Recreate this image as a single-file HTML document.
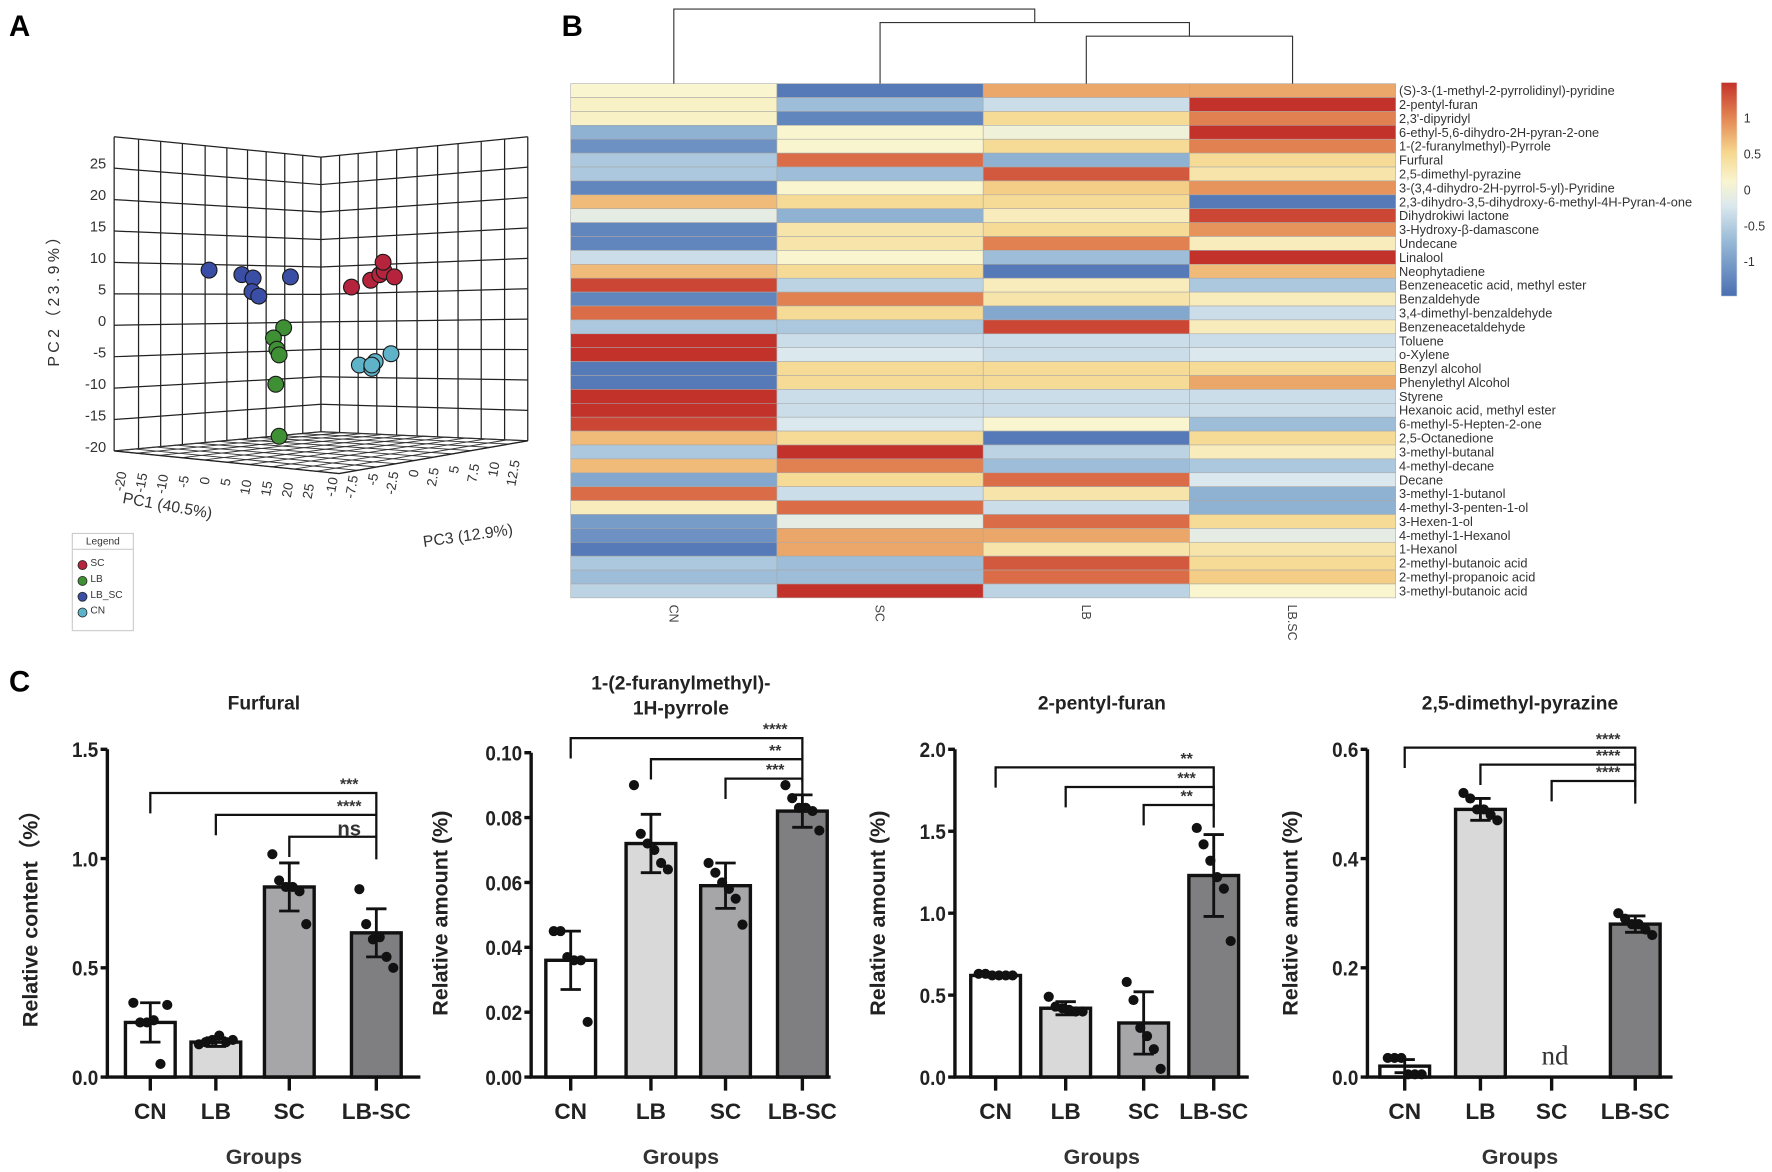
<!DOCTYPE html>
<html><head><meta charset="utf-8"><style>
html,body{margin:0;padding:0;background:#fff;}
svg{display:block;font-family:"Liberation Sans",Arial,sans-serif;}
</style></head><body>
<svg id="fig" width="1772" height="1172" viewBox="0 0 1568 1037" preserveAspectRatio="none" xmlns="http://www.w3.org/2000/svg">
<text x="8" y="32" font-size="26" font-weight="bold">A</text>
<text x="497" y="32" font-size="26" font-weight="bold">B</text>
<text x="8" y="612" font-size="26" font-weight="bold">C</text>
<g id="pca"></g>
<g id="heat"></g>
<g id="bars"></g>
</svg>
<script>
const NS="http://www.w3.org/2000/svg";
function mk(p,t,a,txt){const e=document.createElementNS(NS,t);for(const k in a)e.setAttribute(k,a[k]);if(txt!==undefined)e.textContent=txt;p.appendChild(e);return e;}

/* ---------- PCA data ---------- */
const pcaGroups=["SC","LB","LB_SC","CN"];
const pcaColors=["#b5243c","#3f8f34","#3b4ea6","#5fb3c9"];
const pcaSC=[[311,254],[328,248],[336,243],[340,240],[349,245],[339,232]];
const pcaLB=[[251,290],[242,299],[245,309],[247,314],[244,340],[247,386]];
const pcaLBSC=[[185,239],[214,243],[224,246],[223,258],[229,262],[257,245]];
const pcaCN=[[318,323],[329,326],[332,320],[346,313],[329,323]];
const pc2Ticks=["25","20","15","10","5","0","-5","-10","-15","-20"];
const pc1Ticks=["-20","-15","-10","-5","0","5","10","15","20","25"];
const pc3Ticks=["-10","-7.5","-5","-2.5","0","2.5","5","7.5","10","12.5"];

/* ---------- Heatmap data ---------- */
const heatCols=["CN","SC","LB","LB.SC"];
const heatRows=["(S)-3-(1-methyl-2-pyrrolidinyl)-pyridine","2-pentyl-furan","2,3'-dipyridyl","6-ethyl-5,6-dihydro-2H-pyran-2-one","1-(2-furanylmethyl)-Pyrrole","Furfural"," 2,5-dimethyl-pyrazine","3-(3,4-dihydro-2H-pyrrol-5-yl)-Pyridine","2,3-dihydro-3,5-dihydroxy-6-methyl-4H-Pyran-4-one","Dihydrokiwi lactone","3-Hydroxy-β-damascone","Undecane","Linalool","Neophytadiene","Benzeneacetic acid, methyl ester","Benzaldehyde","3,4-dimethyl-benzaldehyde","Benzeneacetaldehyde","Toluene","o-Xylene","Benzyl alcohol","Phenylethyl Alcohol","Styrene","Hexanoic acid, methyl ester","6-methyl-5-Hepten-2-one","2,5-Octanedione","3-methyl-butanal","4-methyl-decane","Decane"," 3-methyl-1-butanol","4-methyl-3-penten-1-ol","3-Hexen-1-ol"," 4-methyl-1-Hexanol","1-Hexanol","2-methyl-butanoic acid","2-methyl-propanoic acid","3-methyl-butanoic acid"];
const heatCN=[0.1,0.15,0.15,-0.7,-1.0,-0.5,-0.5,-1.1,0.6,-0.1,-1.1,-1.1,-0.3,0.6,1.2,-1.1,1.0,-0.5,1.3,1.3,-1.2,-1.2,1.3,1.3,1.2,0.6,-0.5,0.6,-0.8,1.0,0.2,-0.9,-1.0,-1.2,-0.5,-0.6,-0.4];
const heatSC=[-1.2,-0.6,-1.1,0.1,0.1,1.0,-0.6,0.1,0.4,-0.7,0.3,0.3,0.1,0.4,-0.4,0.9,0.4,-0.5,-0.3,-0.2,0.4,0.4,-0.3,-0.3,-0.2,0.4,1.3,0.9,0.4,-0.3,1.0,-0.1,0.7,0.7,-0.6,-0.6,1.3];
const heatLB=[0.7,-0.3,0.4,0.0,0.4,-0.7,1.1,0.5,0.4,0.2,0.4,0.9,-0.6,-1.2,0.2,0.3,-0.8,1.2,-0.3,-0.3,0.4,0.4,-0.3,-0.3,0.1,-1.2,-0.4,-0.6,1.0,0.3,-0.3,1.0,0.7,0.3,1.1,1.0,-0.4];
const heatLBSC=[0.7,1.3,0.9,1.3,0.9,0.4,0.3,0.8,-1.2,1.2,0.8,0.2,1.3,0.6,-0.5,0.2,-0.3,0.2,-0.3,-0.2,0.4,0.7,-0.3,-0.3,-0.6,0.4,0.2,-0.5,-0.2,-0.7,-0.7,0.4,-0.1,0.3,0.4,0.5,0.1];
const cbTicks=[1,0.5,0,-0.5,-1];

/* ---------- Bar chart data ---------- */
const groups=["CN","LB","SC","LB-SC"];
const furfuralMean=[0.25,0.16,0.87,0.66];
const furfuralSD=[0.09,0.02,0.11,0.11];
const furfuralPts=[[0.34,0.25,0.25,0.26,0.06,0.33],[0.15,0.16,0.17,0.19,0.16,0.17],[1.02,0.90,0.87,0.87,0.85,0.70],[0.86,0.70,0.63,0.64,0.55,0.50]];
const pyrroleMean=[0.036,0.072,0.059,0.082];
const pyrroleSD=[0.009,0.009,0.007,0.005];
const pyrrolePts=[[0.045,0.045,0.037,0.036,0.036,0.017],[0.090,0.075,0.072,0.070,0.066,0.064],[0.066,0.063,0.060,0.058,0.055,0.047],[0.090,0.086,0.083,0.083,0.082,0.076]];
const furanMean=[0.62,0.42,0.33,1.23];
const furanSD=[0.01,0.04,0.19,0.25];
const furanPts=[[0.63,0.63,0.62,0.62,0.62,0.62],[0.49,0.43,0.42,0.41,0.40,0.40],[0.58,0.47,0.30,0.25,0.17,0.05],[1.52,1.42,1.32,1.22,1.15,0.83]];
const pyrazineMean=[0.02,0.49,null,0.28];
const pyrazineSD=[0.012,0.02,null,0.015];
const pyrazinePts=[[0.035,0.035,0.035,0.005,0.005,0.005],[0.52,0.51,0.49,0.49,0.48,0.47],[],[0.30,0.29,0.28,0.28,0.27,0.26]];
const furfuralTicks=[0,0.5,1.0,1.5];
const pyrroleTicks=[0,0.02,0.04,0.06,0.08,0.10];
const furanTicks=[0,0.5,1.0,1.5,2.0];
const pyrazineTicks=[0,0.2,0.4,0.6];
const furfuralSig=["***","****","ns"], furfuralSigY=[1.30,1.20,1.10];
const pyrroleSig=["****","**","***"], pyrroleSigY=[0.1045,0.098,0.092];
const furanSig=["**","***","**"], furanSigY=[1.89,1.77,1.66];
const pyrazineSig=["****","****","****"], pyrazineSigY=[0.603,0.572,0.542];

/* ===== PCA drawing ===== */
(function(){
  const g=document.getElementById('pca');
  const TL=[101,121],CT=[284,139],CB=[284,382],BL=[101,399],TR=[467,121],BR=[467,390];
  const lerp=(a,b,t)=>[a[0]+(b[0]-a[0])*t,a[1]+(b[1]-a[1])*t];
  const lx=[0,0.118,0.225,0.33,0.44,0.545,0.645,0.735,0.825,0.912,1];
  const rx=[0,0.09,0.18,0.27,0.366,0.465,0.564,0.663,0.775,0.888,1];
  const st={stroke:"#222","stroke-width":1.1,fill:"none"};
  for(let i=0;i<=10;i++){const t=i/10;
    let a=lerp(TL,BL,t),b=lerp(CT,CB,t);mk(g,'line',Object.assign({x1:a[0],y1:a[1],x2:b[0],y2:b[1]},st));
    let c=lerp(TR,BR,t);mk(g,'line',Object.assign({x1:b[0],y1:b[1],x2:c[0],y2:c[1]},st));}
  lx.forEach(t=>{let a=lerp(TL,CT,t),b=lerp(BL,CB,t);mk(g,'line',Object.assign({x1:a[0],y1:a[1],x2:b[0],y2:b[1]},st));});
  rx.forEach(t=>{let a=lerp(CT,TR,t),b=lerp(CB,BR,t);mk(g,'line',Object.assign({x1:a[0],y1:a[1],x2:b[0],y2:b[1]},st));});
  const FF=[300,419];
  for(let i=0;i<=10;i++){const t=i/10;
    let a=lerp(BL,CB,t),b=lerp(FF,BR,t);mk(g,'line',{x1:a[0],y1:a[1],x2:b[0],y2:b[1],stroke:"#333","stroke-width":0.8});
    let c=lerp(CB,BR,t),d=lerp(BL,FF,t);mk(g,'line',{x1:c[0],y1:c[1],x2:d[0],y2:d[1],stroke:"#333","stroke-width":0.8});}
  mk(g,'polyline',{points:`${BL} ${FF} ${BR}`,fill:"none",stroke:"#222","stroke-width":1.2});
  pc2Ticks.forEach((s,i)=>{const y=144+i*(395-144)/9;const t=mk(g,'text',{x:94,y:y+5,"font-size":13,"text-anchor":"end",fill:"#333"},s);
    });
  pc1Ticks.forEach((s,i)=>{const x=112+i*(278-112)/9,y=418+i*1.2;const t=mk(g,'text',{x:x,y:y,"font-size":12,"text-anchor":"end",fill:"#333",transform:`rotate(-80 ${x} ${y})`},s);
    });
  pc3Ticks.forEach((s,i)=>{const x=299+i*(460-299)/9,y=423-i*1.7;const t=mk(g,'text',{x:x,y:y,"font-size":12,"text-anchor":"end",fill:"#333",transform:`rotate(-80 ${x} ${y})`},s);
    });
  let t=mk(g,'text',{x:52,y:262,"font-size":14,"text-anchor":"middle",fill:"#333","letter-spacing":"3",transform:"rotate(-90 52 262)"},"PC2（23.9%）");
  
  t=mk(g,'text',{x:108,y:445,"font-size":14,fill:"#333",transform:"rotate(10 108 445)"},"PC1 (40.5%)");
  
  t=mk(g,'text',{x:375,y:484,"font-size":14,fill:"#333",transform:"rotate(-8 375 484)"},"PC3 (12.9%)");
  
  const sets=[pcaSC,pcaLB,pcaLBSC,pcaCN];
  sets.forEach((pts,gi)=>pts.forEach(p=>{const c=mk(g,'circle',{cx:p[0],cy:p[1],r:7,fill:pcaColors[gi],stroke:"#1a1a1a","stroke-width":1});
    }));
  const lg=mk(g,'g',{});
  mk(lg,'rect',{x:64,y:472,width:54,height:86,fill:"#fff",stroke:"#ccc"});
  mk(lg,'line',{x1:64,y1:486,x2:118,y2:486,stroke:"#ccc"});
  mk(lg,'text',{x:91,y:482,"font-size":9,"text-anchor":"middle",fill:"#333"},"Legend");
  pcaGroups.forEach((n,i)=>{const y=500+i*14;mk(lg,'circle',{cx:73,cy:y,r:4,fill:pcaColors[i],stroke:"#222","stroke-width":0.7});
    const e=mk(lg,'text',{x:80,y:y+1,"font-size":9,fill:"#333"},n);});
})();

/* ===== Heatmap drawing ===== */
const stops=[[-1.3,[74,111,178]],[-0.65,[149,184,214]],[-0.2,[219,232,238]],[0.1,[249,245,207]],[0.45,[246,215,142]],[0.85,[229,138,85]],[1.3,[195,50,42]]];
function hcol(v){v=Math.max(-1.3,Math.min(1.3,v));for(let i=0;i<stops.length-1;i++){const a=stops[i],b=stops[i+1];if(v<=b[0]){const t=(v-a[0])/(b[0]-a[0]);const c=a[1].map((x,k)=>Math.round(x+(b[1][k]-x)*t));return `rgb(${c})`;}}return 'rgb(195,50,42)';}
(function(){
  const g=document.getElementById('heat');
  const x0=505,x1=1235,y0=74,y1=529,cw=(x1-x0)/4,rh=(y1-y0)/heatRows.length;
  const cols=[heatCN,heatSC,heatLB,heatLBSC];
  cols.forEach((arr,ci)=>arr.forEach((v,ri)=>{const r=mk(g,'rect',{x:x0+ci*cw,y:y0+ri*rh,width:cw,height:rh,fill:hcol(v),stroke:"#a8a8a8","stroke-width":0.5});
    }));
  heatRows.forEach((n,ri)=>{const t=mk(g,'text',{x:x1+3,y:y0+ri*rh+rh/2+4,"font-size":11.3,fill:"#333"},n);
    });
  heatCols.forEach((n,ci)=>{const cx=x0+ci*cw+cw/2;const t=mk(g,'text',{x:cx-4,y:535,"font-size":11,fill:"#444",transform:`rotate(90 ${cx-4} 535)`},n);
    });
  const d=mk(g,'g',{stroke:"#333","stroke-width":1,fill:"none"});
  const cx=i=>x0+i*cw+cw/2;
  mk(d,'path',{d:`M${cx(2)} ${y0} V32 H${cx(3)} V${y0}`});
  const m1=(cx(2)+cx(3))/2;
  mk(d,'path',{d:`M${cx(1)} ${y0} V20 H${m1} V32`});
  const m2=(cx(1)+m1)/2;
  mk(d,'path',{d:`M${cx(0)} ${y0} V8 H${m2} V20`});
  const defs=mk(g,'defs',{});const lgd=mk(defs,'linearGradient',{id:"cbg",x1:0,y1:1,x2:0,y2:0});
  stops.forEach(s=>mk(lgd,'stop',{offset:(s[0]+1.3)/2.6,"stop-color":`rgb(${s[1]})`}));
  const cb=mk(g,'rect',{x:1523,y:73,width:14,height:189,fill:"url(#cbg)",stroke:"#ddd","stroke-width":0.5});
  
  const cy=v=>168-v*63.5;
  cbTicks.forEach(v=>{const t=mk(g,'text',{x:1543,y:cy(v)+4,"font-size":11,fill:"#333"},String(v));
    });
})();

/* ===== Bar charts ===== */
const fills=["#ffffff","#d9d9d9","#a6a6a8","#7f7f81"];
function barChart(o){
  const g=mk(document.getElementById('bars'),'g',{});
  
  const ys=v=>o.y0-(v-o.tmin)/(o.tmax-o.tmin)*(o.y0-o.y1);
  const bw=44;
  o.mean.forEach((m,i)=>{const cx=o.cx[i];
    if(m!==null){const r=mk(g,'rect',{x:cx-bw/2,y:ys(m),width:bw,height:o.y0-ys(m),fill:fills[i],stroke:"#111","stroke-width":3});
      
      const sd=o.sd[i];mk(g,'path',{d:`M${cx} ${ys(m-sd)} V${ys(m+sd)} M${cx-9} ${ys(m+sd)} H${cx+9} M${cx-9} ${ys(m-sd)} H${cx+9}`,stroke:"#111","stroke-width":2.5,fill:"none"});}
    o.pts[i].forEach((p,k)=>{const c=mk(g,'circle',{cx:cx-15+k*6,cy:ys(p),r:4.5,fill:"#111"});
      });
  });
  const ax=mk(g,'path',{d:`M${o.ax} ${ys(o.tmax)} V${o.y0} H${o.ax2}`,stroke:"#111","stroke-width":3,fill:"none"});
  
  o.ticks.forEach(v=>{mk(g,'line',{x1:o.ax-6,x2:o.ax,y1:ys(v),y2:ys(v),stroke:"#111","stroke-width":3});
    const t=mk(g,'text',{x:o.ax-8,y:ys(v)+7,"font-size":19,"font-weight":"bold","text-anchor":"end",fill:"#222",transform:`scale(0.88 1) translate(${(o.ax-8)*(1/0.88-1)} 0)`},v.toFixed(o.dec));
    });
  groups.forEach((n,i)=>{mk(g,'line',{x1:o.cx[i],x2:o.cx[i],y1:o.y0,y2:o.y0+12,stroke:"#111","stroke-width":3});
    const t=mk(g,'text',{x:o.cx[i],y:990,"font-size":20,"font-weight":"bold","text-anchor":"middle",fill:"#222"},n);
    });
  const mid=(o.ax+o.ax2)/2;
  let t=mk(g,'text',{x:mid,y:1030,"font-size":19,"font-weight":"bold","text-anchor":"middle",fill:"#333"},"Groups");
  
  o.title.forEach((s,i)=>{t=mk(g,'text',{x:mid,y:o.titleY+i*22,"font-size":17,"font-weight":"bold","text-anchor":"middle",fill:"#222"},s);
    });
  const yt=o.ax-62-(o.dec>1?12:0);
  t=mk(g,'text',{x:yt,y:808,"font-size":19,"font-weight":"bold","text-anchor":"middle",fill:"#222",transform:`rotate(-90 ${yt} 808)`},o.ytitle);
  
  o.sig.forEach((s,i)=>{const y=ys(o.sigY[i]);const lx=o.cx[i];const rx=o.cx[3];
    mk(g,'path',{d:`M${lx} ${y+18} V${y} H${rx} V${y+20}`,stroke:"#111","stroke-width":2,fill:"none"});
    const e=mk(g,'text',{x:rx-24,y:s==="ns"?y-1:y-3,"font-size":s==="ns"?18:14,"font-weight":"bold","text-anchor":"middle",fill:"#333"},s);
    });
  if(o.nd){t=mk(g,'text',{x:o.cx[2]+3,y:942,"font-size":24,"font-family":"Liberation Serif, serif","text-anchor":"middle",fill:"#333"},"nd");
    }
}
barChart({name:"furfural-chart",mean:furfuralMean,sd:furfuralSD,pts:furfuralPts,ticks:furfuralTicks,tmin:0,tmax:1.5,y0:953,y1:663,ax:95,ax2:372,cx:[133,191,256,333],dec:1,sig:furfuralSig,sigY:furfuralSigY,title:["Furfural"],titleY:628,ytitle:"Relative content（%）"});
barChart({name:"pyrrole-chart",mean:pyrroleMean,sd:pyrroleSD,pts:pyrrolePts,ticks:pyrroleTicks,tmin:0,tmax:0.10,y0:953,y1:666,ax:470,ax2:735,cx:[505,576,642,710],dec:2,sig:pyrroleSig,sigY:pyrroleSigY,title:["1-(2-furanylmethyl)-","1H-pyrrole"],titleY:610,ytitle:"Relative amount  (%)"});
barChart({name:"pentyl-furan-chart",mean:furanMean,sd:furanSD,pts:furanPts,ticks:furanTicks,tmin:0,tmax:2.0,y0:953,y1:663,ax:845,ax2:1105,cx:[881,943,1012,1074],dec:1,sig:furanSig,sigY:furanSigY,title:["2-pentyl-furan"],titleY:628,ytitle:"Relative amount  (%)"});
barChart({name:"pyrazine-chart",mean:pyrazineMean,sd:pyrazineSD,pts:pyrazinePts,ticks:pyrazineTicks,tmin:0,tmax:0.6,y0:953,y1:663,ax:1210,ax2:1480,cx:[1243,1310,1373,1447],dec:1,sig:pyrazineSig,sigY:pyrazineSigY,title:["2,5-dimethyl-pyrazine"],titleY:628,ytitle:"Relative amount  (%)",nd:true});
</script>
</body></html>
